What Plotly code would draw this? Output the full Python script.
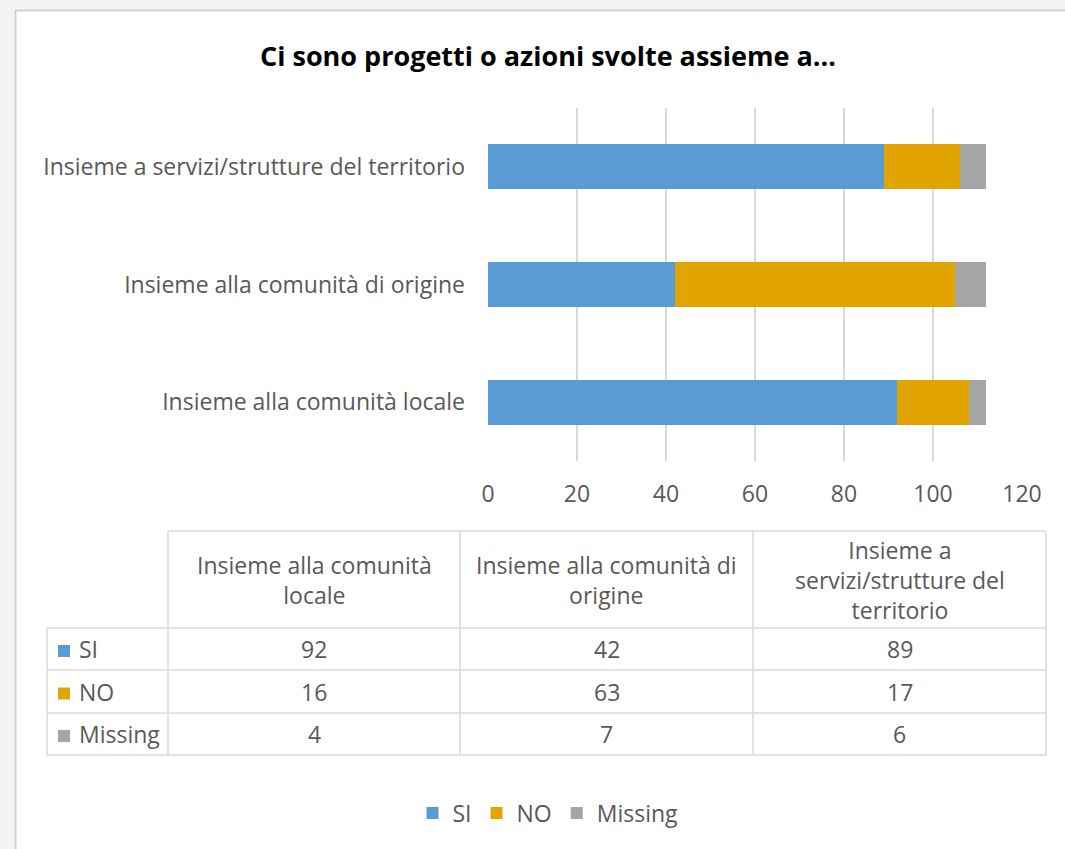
import plotly.graph_objects as go

# ---- data ----
categories = [
    "Insieme alla comunità locale",
    "Insieme alla comunità di origine",
    "Insieme a servizi/strutture del territorio",
]
table_headers = [
    "Insieme alla comunità<br>locale",
    "Insieme alla comunità di<br>origine",
    "Insieme a<br>servizi/strutture del<br>territorio",
]
series_names = ["SI", "NO", "Missing"]
si_values = [92, 42, 89]
no_values = [16, 63, 17]
missing_values = [4, 7, 6]
x_ticks = [0, 20, 40, 60, 80, 100, 120]
title_text = "Ci sono progetti o azioni svolte assieme a..."

# ---- style ----
W, H = 1065, 849
colors = ["#5B9BD5", "#E2A400", "#A5A5A5"]
FONT = "Open Sans, Calibri, Carlito, sans-serif"
TXT = "#595959"
GRID = "#D9D9D9"
FS = 23


def px(x):
    return x / W


def py(y):
    return 1 - y / H


series_values = [si_values, no_values, missing_values]

fig = go.Figure()
for name, vals, col in zip(series_names, series_values, colors):
    fig.add_trace(go.Bar(
        y=categories, x=vals, name=name, orientation="h",
        marker=dict(color=col, line=dict(width=0)),
    ))

shapes = []
annotations = []

# outer frame (chart area border)
shapes.append(dict(type="rect", xref="paper", yref="paper", x0=px(0), x1=px(W), y0=py(0), y1=py(10),
                   fillcolor="#F4F4F4", line=dict(width=0), layer="below"))
shapes.append(dict(type="rect", xref="paper", yref="paper", x0=px(0), x1=px(15), y0=py(0), y1=py(H),
                   fillcolor="#F4F4F4", line=dict(width=0), layer="below"))
shapes.append(dict(type="line", xref="paper", yref="paper", x0=px(15), x1=px(W), y0=py(10.5), y1=py(10.5),
                   line=dict(color="#D0D0D0", width=2)))
shapes.append(dict(type="line", xref="paper", yref="paper", x0=px(15.5), x1=px(15.5), y0=py(10), y1=py(H),
                   line=dict(color="#D0D0D0", width=2)))

# data table
col_x = [47, 168, 460, 753, 1046]
row_y = [531, 628, 670, 713, 755]


def hline(y, x0, x1):
    shapes.append(dict(type="line", xref="paper", yref="paper", x0=px(x0), x1=px(x1), y0=py(y), y1=py(y),
                       line=dict(color=GRID, width=1.5)))


def vline(x, y0, y1):
    shapes.append(dict(type="line", xref="paper", yref="paper", x0=px(x), x1=px(x), y0=py(y0), y1=py(y1),
                       line=dict(color=GRID, width=1.5)))


hline(row_y[0], col_x[1], col_x[-1])
for y in row_y[1:]:
    hline(y, col_x[0], col_x[-1])
vline(col_x[0], row_y[1], row_y[-1])
for x in col_x[1:]:
    vline(x, row_y[0], row_y[-1])

# header texts
for j, hdr in enumerate(table_headers):
    cx = (col_x[j + 1] + col_x[j + 2]) / 2
    cy = (row_y[0] + row_y[1]) / 2
    annotations.append(dict(xref="paper", yref="paper", x=px(cx), y=py(cy), text=hdr, showarrow=False,
                            xanchor="center", yanchor="middle", align="center",
                            font=dict(family=FONT, size=FS, color=TXT)))

# rows
for i, (name, vals, col) in enumerate(zip(series_names, series_values, colors)):
    cy = (row_y[i + 1] + row_y[i + 2]) / 2
    shapes.append(dict(type="rect", xref="paper", yref="paper", x0=px(58), x1=px(70),
                       y0=py(cy + 8), y1=py(cy - 4), fillcolor=col, line=dict(width=0)))
    annotations.append(dict(xref="paper", yref="paper", x=px(77), y=py(cy), text=name, showarrow=False,
                            xanchor="left", yanchor="middle",
                            font=dict(family=FONT, size=FS, color=TXT)))
    for j, v in enumerate(vals):
        cx = (col_x[j + 1] + col_x[j + 2]) / 2
        annotations.append(dict(xref="paper", yref="paper", x=px(cx), y=py(cy), text=str(v), showarrow=False,
                                xanchor="center", yanchor="middle",
                                font=dict(family=FONT, size=FS, color=TXT)))

# title
annotations.append(dict(xref="paper", yref="paper", x=px(548), y=py(55), text="<b>" + title_text + "</b>",
                        showarrow=False, xanchor="center", yanchor="middle",
                        font=dict(family=FONT, size=27, color="#000000")))

fig.update_layout(
    width=W, height=H, autosize=False,
    margin=dict(l=0, r=0, t=0, b=0, pad=0),
    paper_bgcolor="white", plot_bgcolor="white",
    barmode="stack", bargap=0.617,
    font=dict(family=FONT, color=TXT, size=FS),
    xaxis=dict(domain=[px(488), px(1022)], range=[0, 120], tickvals=x_ticks, automargin=False,
               showgrid=True, gridcolor=GRID, gridwidth=2, zeroline=False, showline=False,
               ticks="", ticklabelstandoff=17, tickfont=dict(family=FONT, size=FS, color=TXT), fixedrange=True),
    yaxis=dict(domain=[py(461), py(108)], showgrid=False, zeroline=False, showline=False, automargin=False,
               ticks="", ticklabelstandoff=22, tickfont=dict(family=FONT, size=FS, color=TXT), fixedrange=True),
    showlegend=True,
    legend=dict(orientation="h", x=px(548), xanchor="center", y=py(813), yanchor="middle",
                traceorder="normal",
                font=dict(family=FONT, size=FS, color=TXT), bgcolor="rgba(0,0,0,0)",
                itemclick=False, itemdoubleclick=False),
    shapes=shapes, annotations=annotations,
)

fig.write_html(
    "out.html",
    config={"displayModeBar": False, "responsive": False},
    post_script="document.body.style.margin='0';document.body.style.overflow='hidden';",
)
